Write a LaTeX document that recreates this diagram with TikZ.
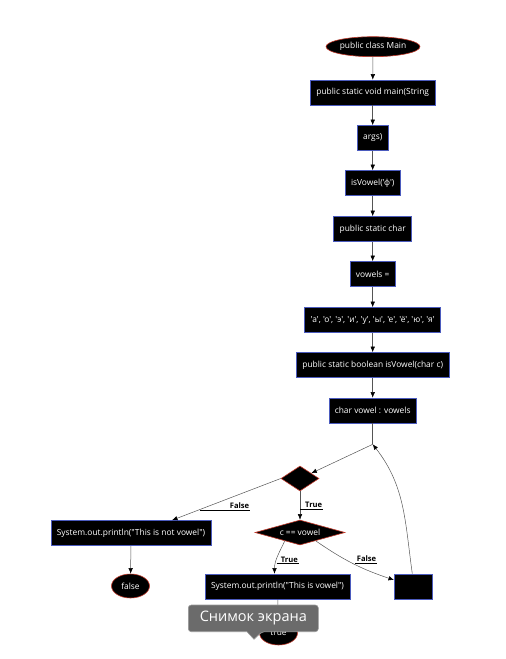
\documentclass[tikz,border=0pt]{standalone}
\usepackage{fontspec}
\setmainfont{Open Sans}[Ligatures=TeXOff]
\usetikzlibrary{shapes.geometric,arrows.meta}

\begin{document}
\begin{tikzpicture}[x=1pt,y=1pt,
  every node/.style={font=\fontsize{8.4}{9.5}\selectfont, text=white},
  codebox/.style={draw=flowBoxEdge, fill=black, line width=0.6pt, minimum height=25pt, inner xsep=6pt},
  termnode/.style={ellipse, draw=flowTermEdge, fill=black, line width=0.6pt, inner sep=0pt},
  testnode/.style={diamond, draw=flowTermEdge, fill=black, line width=0.6pt, aspect=3.6, inner sep=0pt},
  flow/.style={draw=flowLine, line width=0.5pt, -{Latex[length=5.5pt,width=4.5pt,color=black]}},
  branchlab/.style={font=\fontsize{7.6}{8.5}\selectfont\bfseries, text=black, inner sep=1pt, anchor=south west, align=right,
    append after command={(\tikzlastnode.south west) edge[draw=black, line width=0.6pt] (\tikzlastnode.south east)}}]
\definecolor{flowBoxEdge}{HTML}{4B5BBE}
\definecolor{flowTermEdge}{HTML}{C0392B}
\definecolor{flowLine}{HTML}{555555}
\definecolor{snapFill}{HTML}{6B6B6B}
\definecolor{snapEdge}{HTML}{9A9A9A}
\useasboundingbox (0,0) rectangle (506,-659);
\node[termnode, minimum width=94pt, minimum height=20pt] (pc) at (373,-46.7) {public class Main};
\foreach \name/\y/\txt in {mn/-92.5/{public static void main(String}, ar/-138/{args)}, iv/-183/{isVowel('ф')},
    ch/-229/{public static char}, vw/-274/{vowels =}, ls/-320/{'а', 'о', 'э', 'и', 'у', 'ы', 'е', 'ё', 'ю', 'я'},
    ib/-365/{public static boolean isVowel(char c)}, cv/-410.5/{char vowel : vowels}} {
  \node[codebox] (\name) at (372.7,\y) {\txt};
}
\coordinate (jn) at (372.7,-444.3);
\node[testnode, minimum width=38pt, minimum height=25pt] (d1) at (300,-478.5) {};
\node[testnode, minimum width=90pt, minimum height=25pt] (d2) at (300,-532.5) {c == vowel};
\node[codebox] (nv) at (131,-533) {System.out.println("This is not vowel")};
\node[termnode, minimum width=38pt, minimum height=24pt] (fe) at (130.5,-586) {false};
\node[codebox] (pv) at (277.5,-586.5) {System.out.println("This is vowel")};
\node[codebox, minimum width=38pt] (eb) at (413.3,-586.5) {};
\node[termnode, minimum width=38pt, minimum height=24pt] (te) at (278.5,-633) {true};
\foreach \a/\b in {pc/mn,mn/ar,ar/iv,iv/ch,ch/vw,vw/ls,ls/ib,ib/cv} {
  \draw[flow] (\a) -- (\b);
}
\draw[draw=flowLine, line width=0.5pt] (cv) -- (jn);
\draw[flow] (jn) -- (d1);
\draw[flow] (d1.west) -- ([xshift=41pt]nv.north);
\draw[flow] (d1) -- (d2);
\draw[flow] (d2.209) to[out=-115,in=90] ([xshift=-3pt]pv.north);
\draw[flow] (d2.-28) to[bend right=8] ([yshift=6.5pt]eb.west);
\draw[flow] ([xshift=-1pt]eb.north) to[out=98,in=-52] (jn);
\draw[flow] (nv) -- (fe);
\draw[flow] (pv) -- (te);
\node[branchlab, text width=48pt] (lf1) at (200,-510) {False};
\node[branchlab, text width=21pt] (lt1) at (300,-509) {True};
\node[branchlab, text width=20pt] (lt2) at (276.7,-563.3) {True};
\node[branchlab, text width=20pt] (lf2) at (355,-563) {False};
\draw[fill=snapFill, draw=snapEdge, line width=0.6pt, rounded corners=3pt]
  (188.3,-605) -- (318.3,-605) -- (318.3,-631.7) -- (262,-631.7) [sharp corners] -- (254,-639.3) -- (247,-631.7)
  [rounded corners=3pt] -- (188.3,-631.7) -- cycle;
\node[font=\fontsize{14.5}{16}\selectfont] (snap) at (253.3,-618.3) {Снимок экрана};
\end{tikzpicture}
\end{document}
